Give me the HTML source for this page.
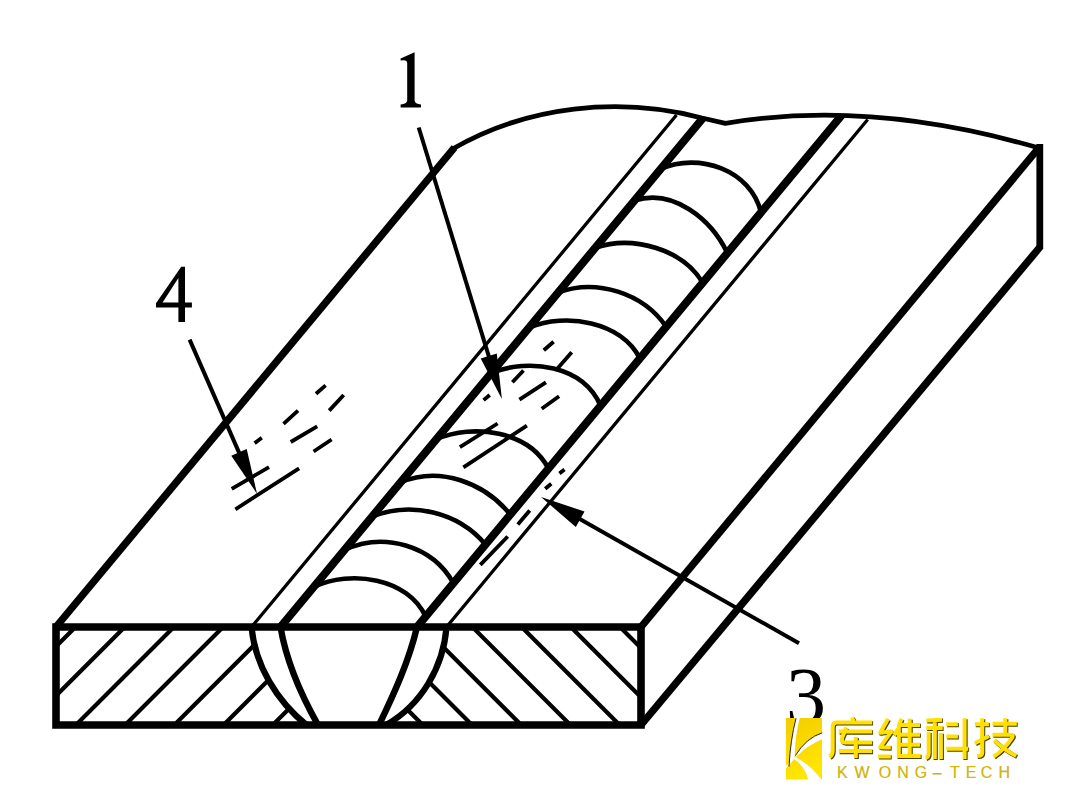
<!DOCTYPE html>
<html><head><meta charset="utf-8"><style>
html,body{margin:0;padding:0;background:#fff;width:1080px;height:789px;overflow:hidden;font-family:"Liberation Sans",sans-serif;}
svg{display:block;position:absolute;left:0;top:0}
</style></head><body>
<svg width="1080" height="789" viewBox="0 0 1080 789"><defs><clipPath id="cl"><path d="M56 627 L251.5 627 C255.2 665.6 276.7 700.7 306.5 725 L56 725 Z"/></clipPath><clipPath id="cr"><path d="M641 627 L641 725 L386 725 L386 725 C421.2 705 443.5 667 446.5 627 Z"/></clipPath></defs><path clip-path="url(#cl)" d="M87.5 615 L-32.5 735 M136.7 615 L16.7 735 M185.9 615 L65.9 735 M235.1 615 L115.1 735 M284.3 615 L164.3 735 M333.5 615 L213.5 735 M382.7 615 L262.7 735 M431.9 615 L311.9 735 M481.1 615 L361.1 735" stroke="#000" stroke-width="4.2" fill="none"/><path clip-path="url(#cr)" d="M608 615 L728 735 M558.8 615 L678.8 735 M509.6 615 L629.6 735 M460.4 615 L580.4 735 M411.2 615 L531.2 735 M362 615 L482 735 M312.8 615 L432.8 735 M263.6 615 L383.6 735 M214.4 615 L334.4 735" stroke="#000" stroke-width="4.2" fill="none"/><path d="M251.5 627 C255.2 665.6 276.7 700.7 306.5 725 M446.5 627 C443.5 667 421.2 705 386 725" stroke="#000" stroke-width="6.2" fill="none"/><path d="M280.5 627 C286.4 661.9 300.8 694.4 318 725 M417 627 C408.9 661.3 394.2 693.4 379 725" stroke="#000" stroke-width="6.4" fill="none"/><path d="M56 627 L641 627 L641 725 L56 725 Z" stroke="#000" stroke-width="7.6" fill="none"/><path d="M56 627 L454.5 147.5" stroke="#000" stroke-width="7.4" fill="none"/><path d="M641 627 L1039.5 147" stroke="#000" stroke-width="7.4" fill="none"/><path d="M641 725 L1040 247" stroke="#000" stroke-width="7.4" fill="none"/><path d="M1039.8 144 L1039.8 249" stroke="#000" stroke-width="6.8" fill="none"/><path d="M452.5 149 C526.7 105.9 619.3 96.2 702 118 L725.4 123.3 C830.1 105.6 938.7 118.7 1040 148.3" stroke="#000" stroke-width="4.8" fill="none" stroke-linejoin="round"/><path d="M251.5 627 L676.5 115 M446.5 627 L867.7 119.5" stroke="#000" stroke-width="3.3" fill="none"/><path d="M280.5 627 L703 118 M417 627 L841.5 115.5" stroke="#000" stroke-width="8.0" fill="none"/><path d="M660.6 169 C698.6 151.9 751.1 169.9 761 212.6 M634.4 200.6 C673.6 188 711.2 219.4 727.4 253 M595.2 247.8 C632.3 234.8 682.8 249.1 702.7 282.8 M558.1 292.5 C596.6 278.3 643 293 666.2 326.7 M529 327.6 C565.9 312.2 621.3 321.6 639.9 358.4 M491.4 372.9 C528.9 358 583.3 365.1 600.6 405.8 M436.4 439.2 C473.3 423.3 528.8 430.9 548.5 468.6 M400.4 482.5 C439.5 465.7 484.5 482.7 510.3 514.6 M372.1 516.6 C411.1 500.9 458.3 512 485.5 544.5 M344.4 550 C383.5 531.7 432.4 545.3 453.4 583.2 M313.8 586.9 C350.3 569.4 408.1 577.8 425.6 616.6" stroke="#000" stroke-width="4.6" fill="none"/><path d="M316 393.8 L325.6 385.4 M329.2 410.6 L343.7 395 M283.5 423.9 L298 410.6 M290.7 442 L317.2 426.3 M313.6 451.5 L331.6 439.5 M254.6 443.1 L261.8 437.8 M231.7 488.8 L269 467.2 M235.4 509.3 L299.1 468.4 M543.8 350.2 L553.6 341.8 M557.7 368.3 L571.7 352.3 M512.4 382.3 L523.5 370.5 M519.4 399.7 L545.9 382.3 M541.7 408.7 L559.1 396.2 M483.6 400.1 L489.7 395 M459.9 447.2 L497.6 423.5 M463.4 467.4 L526.9 425.6 M559.4 473.6 L564.5 469.6 M545.2 488.8 L551.3 483.8 M517.8 524.6 L529.7 510.6 M480.3 564.9 L507.7 536.5" stroke="#000" stroke-width="3.8" fill="none"/><path d="M418.7 127.5 L489.9 359.9" stroke="#000" stroke-width="4.0" fill="none"/><path d="M501.9 399.1 L480.7 358.5 L496.8 353.6 Z" fill="#000"/><path d="M189.6 339.6 L240.6 456.1" stroke="#000" stroke-width="4.0" fill="none"/><path d="M257 493.7 L231.3 455.8 L246.7 449.1 Z" fill="#000"/><path d="M799 643.3 L576.7 517.2" stroke="#000" stroke-width="4.0" fill="none"/><path d="M541 497 L584.5 511.5 L575.8 526.9 Z" fill="#000"/><path d="M414.6 52.3 L414.6 100.5 Q414.9 104 421 104.4 L421 107.4 L400.6 107.4 L400.6 104.4 Q406.9 104 407.2 100.5 L407.2 63 Q407 60 403.5 60.2 L400.6 60.6 L400.6 58.4 Z" fill="#000"/><path fill-rule="evenodd" d="M181.2 266.8 L185 266.8 L185 302.5 L191.9 302.5 L191.9 307.5 L185 307.5 L185 322 L178.4 322 L178.4 307.5 L156 307.5 L156 303.2 Z M178.4 278 L162.6 302.5 L178.4 302.5 Z" fill="#000"/><text x="786" y="723" font-family="Liberation Serif" font-size="80" fill="#000">3</text><defs><linearGradient id="yg" x1="0" y1="0" x2="0.3" y2="1"><stop offset="0" stop-color="#F4CC00"/><stop offset="1" stop-color="#FFE600"/></linearGradient></defs><rect x="785.9" y="718" width="36.1" height="61.5" fill="url(#yg)"/><path d="M796 718 L799.8 718 Q794.6 738 795 755.6 L789 766.5 Q790.4 740 796 718 Z" fill="#fff"/><path d="M822.6 732.6 Q806 738 795 755.6 L795.6 757.2 Q808 745 822.6 739 Z" fill="#fff"/><path d="M795.2 757 Q811 765 821.6 780 L808.4 780 Q804 765 793.6 758.8 Z" fill="#fff"/><path d="M785.5 767.8 L794.6 757.6" stroke="#fff" stroke-width="1.3"/><path d="M796 718.3 Q790.4 740 789 766.5" stroke="#2a2200" stroke-width="1" fill="none"/><path d="M822.2 732.8 Q806 738 795.2 755.8" stroke="#2a2200" stroke-width="1" fill="none"/><g transform="translate(0.9 0.9)"><path d="M852 717.5 L853.5 721 M872.2 722.5 L836.5 722.5 Q832.7 722.5 832.7 727 L832.7 750.5 Q832.7 755 829.5 757 M838.8 731.6 L872.2 731.6 M846.3 727.5 L842.2 737.5 Q841 742.6 845 742.6 L872.2 742.6 M855.8 737 L855.8 758 M838.8 751.1 L872.2 751.1 M888 719 L880.2 732.8 L891.8 731.2 M892.2 730.2 L880.2 747.2 L890.8 747.6 M878.2 756.4 L890.8 756.4 M901.5 718.8 L898.8 726 L898.8 758 M898.8 728 L894 735 M909.7 718.8 L909.7 756 M900 725 L920 725 M900 734.7 L920 734.7 M900 744.7 L920 744.7 M898.8 756 L920.7 756 M926.3 720.4 L942.1 719.8 M926.3 728 L942.7 728 M934.8 720 L934.8 759 M928.7 732.2 L928.7 753 Q928.7 757 925.6 758 M940.9 732.9 L940.9 759 M946.3 724.3 L957.9 724.3 M946.3 736.5 L957.9 736.5 M946.3 748.7 L968.2 748.7 M964.6 718.3 L964.6 759 M974.9 724.3 L988.9 724.3 M982.2 718.3 L982.2 752.5 Q982.2 756 977 756 M974.9 743.2 L988.9 735.9 M992.5 723.7 L1016.8 723.7 M1005.3 718.3 L1005.3 734.1 M992.5 734.7 L1011 734.7 Q1014 735 1012 738 Q1004 750 993.7 756.6 M994.3 740.2 Q1004 750 1016.2 756" stroke="#4a4000" stroke-width="4.3" fill="none" stroke-linecap="butt" stroke-linejoin="round"/></g><path d="M852 717.5 L853.5 721 M872.2 722.5 L836.5 722.5 Q832.7 722.5 832.7 727 L832.7 750.5 Q832.7 755 829.5 757 M838.8 731.6 L872.2 731.6 M846.3 727.5 L842.2 737.5 Q841 742.6 845 742.6 L872.2 742.6 M855.8 737 L855.8 758 M838.8 751.1 L872.2 751.1 M888 719 L880.2 732.8 L891.8 731.2 M892.2 730.2 L880.2 747.2 L890.8 747.6 M878.2 756.4 L890.8 756.4 M901.5 718.8 L898.8 726 L898.8 758 M898.8 728 L894 735 M909.7 718.8 L909.7 756 M900 725 L920 725 M900 734.7 L920 734.7 M900 744.7 L920 744.7 M898.8 756 L920.7 756 M926.3 720.4 L942.1 719.8 M926.3 728 L942.7 728 M934.8 720 L934.8 759 M928.7 732.2 L928.7 753 Q928.7 757 925.6 758 M940.9 732.9 L940.9 759 M946.3 724.3 L957.9 724.3 M946.3 736.5 L957.9 736.5 M946.3 748.7 L968.2 748.7 M964.6 718.3 L964.6 759 M974.9 724.3 L988.9 724.3 M982.2 718.3 L982.2 752.5 Q982.2 756 977 756 M974.9 743.2 L988.9 735.9 M992.5 723.7 L1016.8 723.7 M1005.3 718.3 L1005.3 734.1 M992.5 734.7 L1011 734.7 Q1014 735 1012 738 Q1004 750 993.7 756.6 M994.3 740.2 Q1004 750 1016.2 756" stroke="#FFE000" stroke-width="4.0" fill="none" stroke-linecap="butt" stroke-linejoin="round"/><g font-family="Liberation Sans" font-size="16" fill="#D8B800" stroke="#9a8200" stroke-width="0.15"><text x="842.3" y="778" text-anchor="middle">K</text><text x="862.1" y="778" text-anchor="middle">W</text><text x="884.9" y="778" text-anchor="middle">O</text><text x="903" y="778" text-anchor="middle">N</text><text x="921" y="778" text-anchor="middle">G</text><text x="937.3" y="778" text-anchor="middle">–</text><text x="954.9" y="778" text-anchor="middle">T</text><text x="971.1" y="778" text-anchor="middle">E</text><text x="986.6" y="778" text-anchor="middle">C</text><text x="1004.2" y="778" text-anchor="middle">H</text></g></svg>
</body></html>
